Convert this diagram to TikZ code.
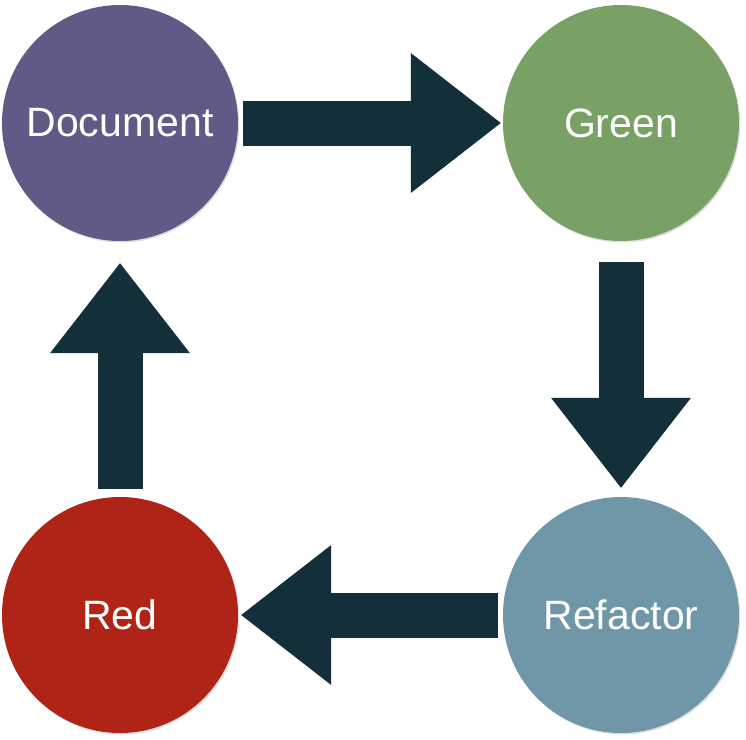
\documentclass[tikz,border=0pt]{standalone}
\usepackage{fontspec}
\setmainfont{Liberation Sans}
\usetikzlibrary{arrows.meta, positioning, shadows}
\definecolor{docpurple}{HTML}{5F5A86}
\definecolor{passgreen}{HTML}{79A166}
\definecolor{failred}{HTML}{B02418}
\definecolor{refblue}{HTML}{6F97A8}
\definecolor{flowdark}{HTML}{13303A}
\begin{document}
\begin{tikzpicture}[x=1pt, y=-1pt, node distance=492pt and 501pt, on grid,
    stage/.style={circle, minimum size=236pt, inner sep=0pt, text=white,
      font=\fontsize{41}{48}\selectfont,
      drop shadow={shadow xshift=1.2pt, shadow yshift=-1.5pt, opacity=.25}},
    flow/.style={draw=flowdark, line width=45pt,
      -{Triangle[length=90pt, width=140pt, line width=0pt]}}]
    \useasboundingbox (0,0) rectangle (746,739);

    \node[stage, fill=docpurple] (doc) at (120,123) {Document};
    \node[stage, fill=passgreen, right=of doc] (green) {Green};
    \node[stage, fill=refblue, below=of green] (refactor) {Refactor};
    \node[stage, fill=failred, left=of refactor] (red) {Red};

    \path (doc) edge[flow, shorten <=5pt, shorten >=2pt] (green)
    (green) edge[flow, shorten <=21pt, shorten >=9pt] (refactor)
    (refactor) edge[flow, shorten <=5pt, shorten >=3pt] (red)
    (red) edge[flow, shorten <=8pt, shorten >=22pt] (doc);
\end{tikzpicture}
\end{document}
